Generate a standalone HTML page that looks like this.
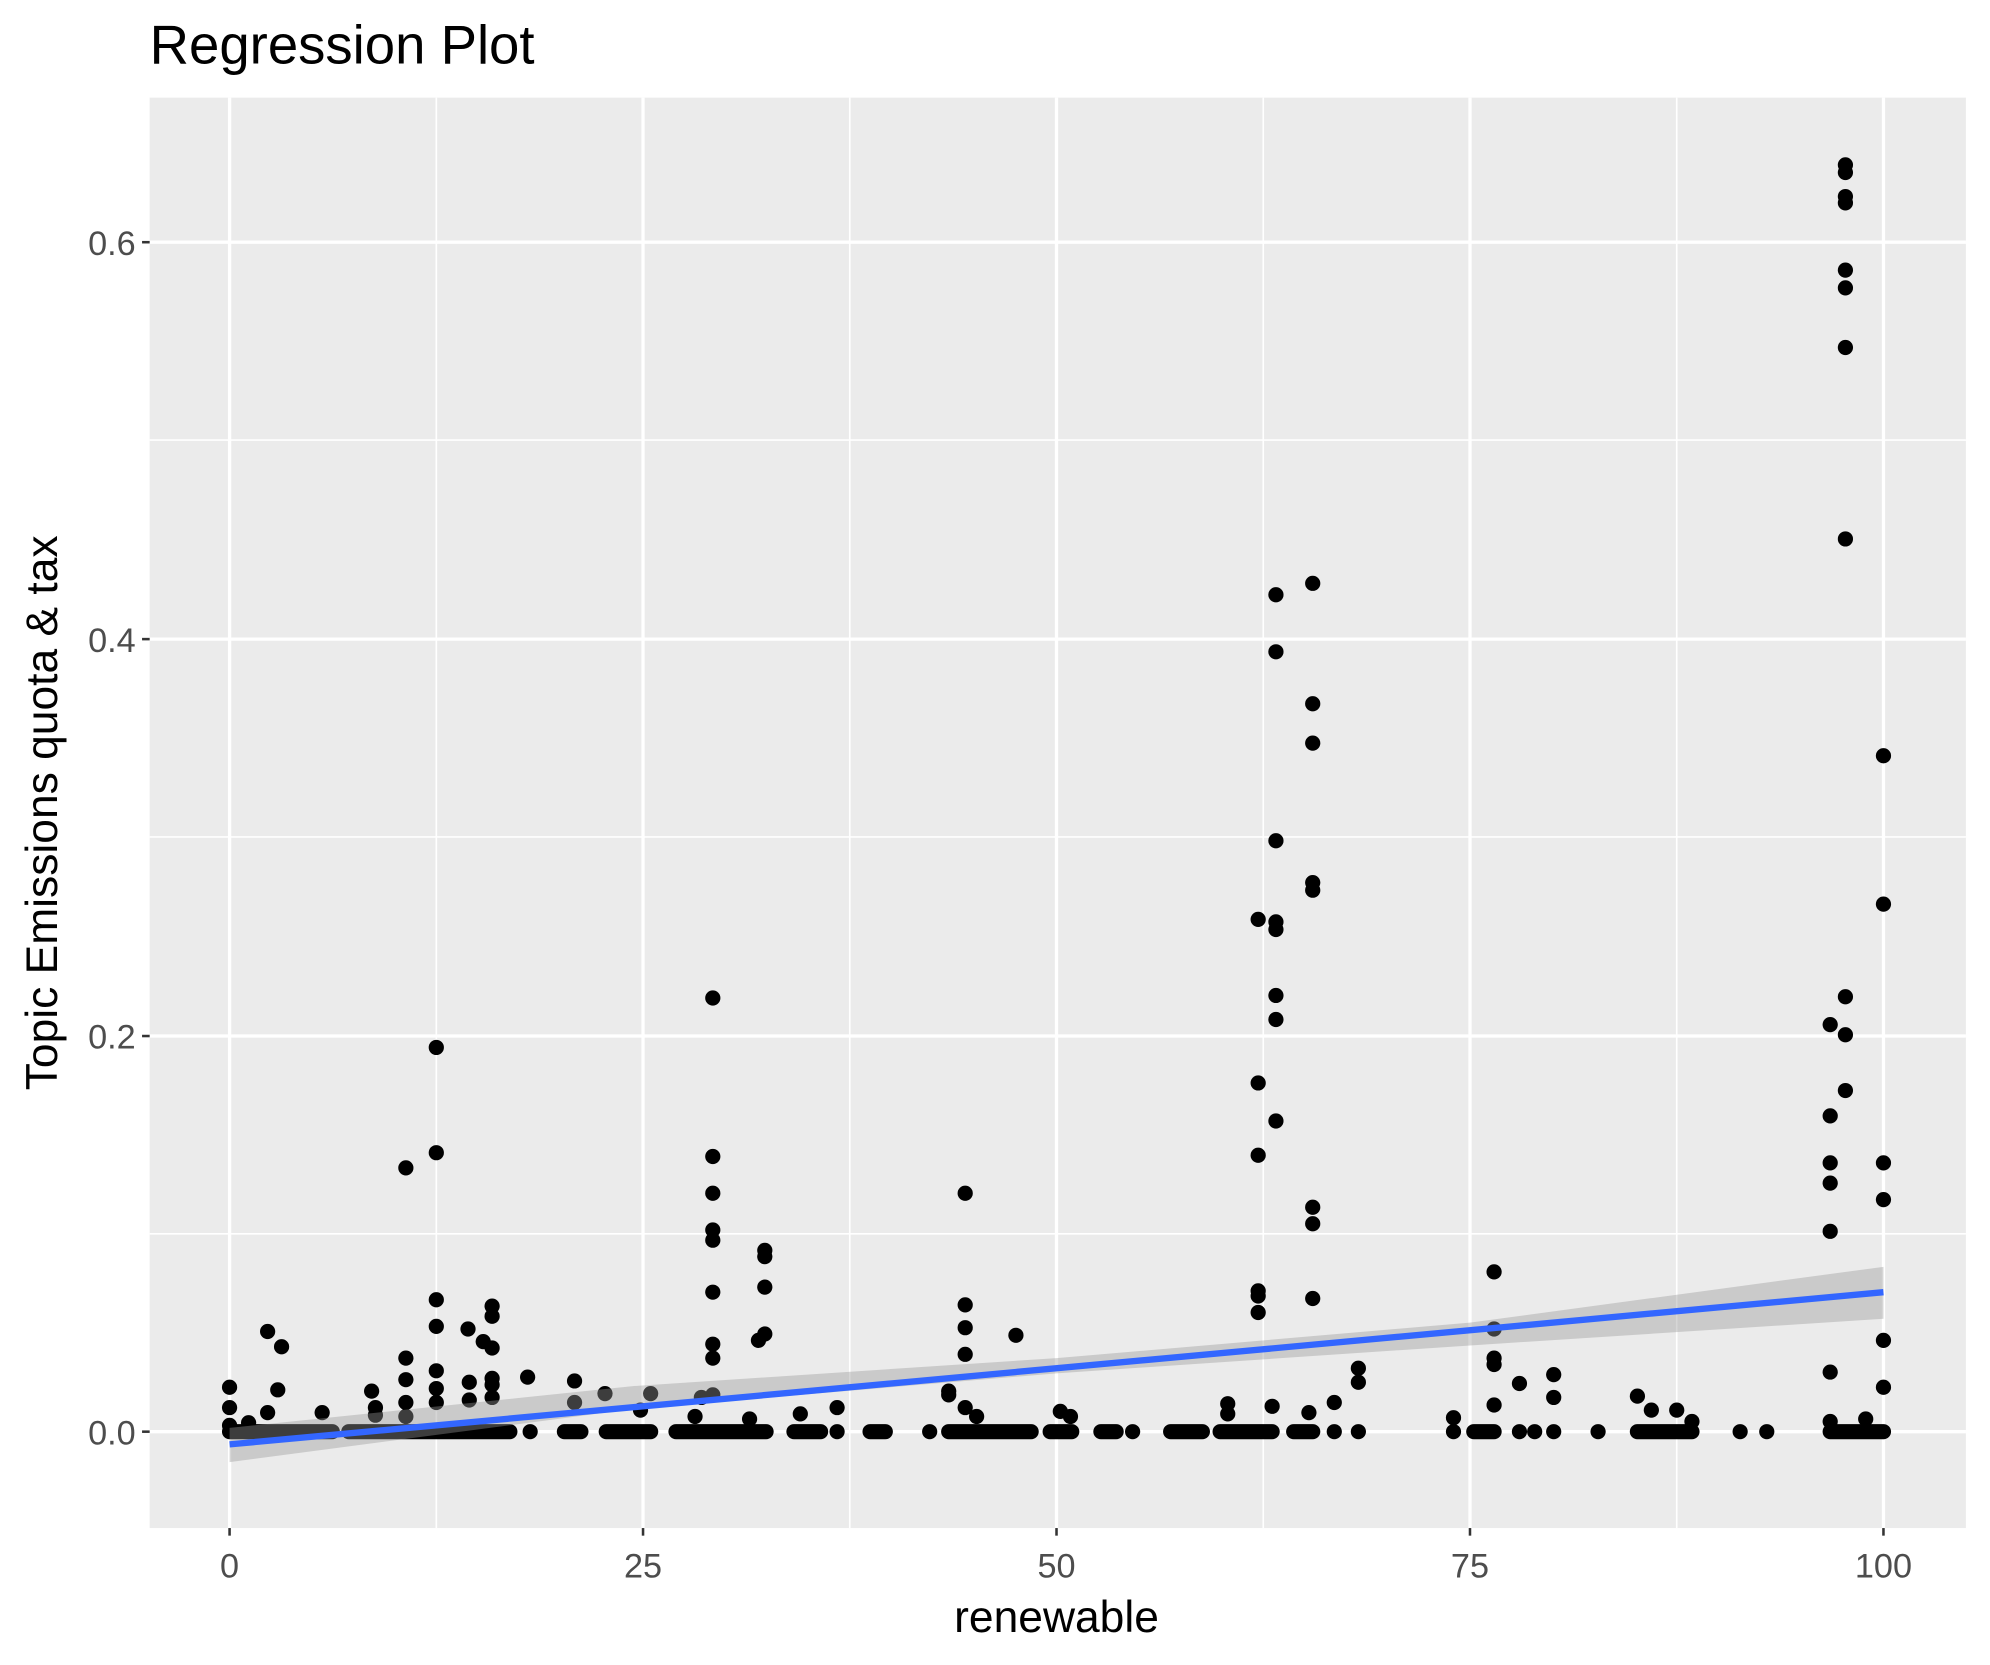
<!DOCTYPE html>
<html><head><meta charset="utf-8"><style>html,body{margin:0;padding:0;background:#fff}svg{display:block}</style></head>
<body>
<svg width="1990" height="1665" viewBox="0 0 1569 1313" preserveAspectRatio="none" xmlns="http://www.w3.org/2000/svg" font-family="Liberation Sans, sans-serif">
<rect width="1569" height="1313" fill="#fff"/>
<rect x="118" y="77" width="1432" height="1128" fill="#ebebeb"/>
<g stroke="#fff" stroke-width="1.3">
<line x1="118" x2="1550" y1="973" y2="973"/><line x1="118" x2="1550" y1="660" y2="660"/><line x1="118" x2="1550" y1="347" y2="347"/>
<line y1="77" y2="1205" x1="344" x2="344"/><line y1="77" y2="1205" x1="670" x2="670"/><line y1="77" y2="1205" x1="996" x2="996"/><line y1="77" y2="1205" x1="1322" x2="1322"/>
</g>
<g stroke="#fff" stroke-width="2.6">
<line x1="118" x2="1550" y1="1129" y2="1129"/><line x1="118" x2="1550" y1="817" y2="817"/><line x1="118" x2="1550" y1="504" y2="504"/><line x1="118" x2="1550" y1="191" y2="191"/>
<line y1="77" y2="1205" x1="181" x2="181"/><line y1="77" y2="1205" x1="507" x2="507"/><line y1="77" y2="1205" x1="833" x2="833"/><line y1="77" y2="1205" x1="1159" x2="1159"/><line y1="77" y2="1205" x1="1485" x2="1485"/>
</g>
<g fill="#000">
<circle cx="181" cy="1124" r="6"/><circle cx="181" cy="1110" r="6"/><circle cx="181" cy="1094" r="6"/><circle cx="211" cy="1050" r="6"/><circle cx="222" cy="1062" r="6"/><circle cx="219" cy="1096" r="6"/><circle cx="211" cy="1114" r="6"/><circle cx="196" cy="1122" r="6"/><circle cx="254" cy="1114" r="6"/><circle cx="293" cy="1097" r="6"/><circle cx="296" cy="1110" r="6"/><circle cx="296" cy="1116" r="6"/>
<circle cx="320" cy="921" r="6"/><circle cx="320" cy="1071" r="6"/><circle cx="320" cy="1088" r="6"/><circle cx="320" cy="1106" r="6"/><circle cx="320" cy="1117" r="6"/>
<circle cx="344" cy="826" r="6"/><circle cx="344" cy="909" r="6"/><circle cx="344" cy="1025" r="6"/><circle cx="344" cy="1046" r="6"/><circle cx="344" cy="1081" r="6"/><circle cx="344" cy="1095" r="6"/><circle cx="344" cy="1106" r="6"/>
<circle cx="369" cy="1048" r="6"/><circle cx="370" cy="1090" r="6"/><circle cx="370" cy="1104" r="6"/><circle cx="381" cy="1058" r="6"/><circle cx="388" cy="1030" r="6"/><circle cx="388" cy="1038" r="6"/><circle cx="388" cy="1063" r="6"/><circle cx="388" cy="1087" r="6"/><circle cx="388" cy="1092" r="6"/><circle cx="388" cy="1102" r="6"/>
<circle cx="416" cy="1086" r="6"/><circle cx="453" cy="1089" r="6"/><circle cx="453" cy="1106" r="6"/><circle cx="477" cy="1099" r="6"/><circle cx="513" cy="1099" r="6"/><circle cx="505" cy="1112" r="6"/><circle cx="548" cy="1117" r="6"/><circle cx="553" cy="1102" r="6"/>
<circle cx="562" cy="787" r="6"/><circle cx="562" cy="912" r="6"/><circle cx="562" cy="941" r="6"/><circle cx="562" cy="970" r="6"/><circle cx="562" cy="978" r="6"/><circle cx="562" cy="1019" r="6"/><circle cx="562" cy="1060" r="6"/><circle cx="562" cy="1071" r="6"/><circle cx="562" cy="1100" r="6"/>
<circle cx="591" cy="1119" r="6"/><circle cx="598" cy="1057" r="6"/><circle cx="603" cy="986" r="6"/><circle cx="603" cy="991" r="6"/><circle cx="603" cy="1015" r="6"/><circle cx="603" cy="1052" r="6"/><circle cx="631" cy="1115" r="6"/><circle cx="660" cy="1110" r="6"/>
<circle cx="748" cy="1097" r="6"/><circle cx="748" cy="1100" r="6"/><circle cx="761" cy="941" r="6"/><circle cx="761" cy="1029" r="6"/><circle cx="761" cy="1047" r="6"/><circle cx="761" cy="1068" r="6"/><circle cx="761" cy="1110" r="6"/><circle cx="770" cy="1117" r="6"/><circle cx="801" cy="1053" r="6"/><circle cx="836" cy="1113" r="6"/><circle cx="844" cy="1117" r="6"/>
<circle cx="968" cy="1107" r="6"/><circle cx="968" cy="1115" r="6"/>
<circle cx="992" cy="725" r="6"/><circle cx="992" cy="854" r="6"/><circle cx="992" cy="911" r="6"/><circle cx="992" cy="1018" r="6"/><circle cx="992" cy="1022" r="6"/><circle cx="992" cy="1035" r="6"/>
<circle cx="1006" cy="469" r="6"/><circle cx="1006" cy="514" r="6"/><circle cx="1006" cy="663" r="6"/><circle cx="1006" cy="727" r="6"/><circle cx="1006" cy="733" r="6"/><circle cx="1006" cy="785" r="6"/><circle cx="1006" cy="804" r="6"/><circle cx="1006" cy="884" r="6"/><circle cx="1003" cy="1109" r="6"/>
<circle cx="1035" cy="460" r="6"/><circle cx="1035" cy="555" r="6"/><circle cx="1035" cy="586" r="6"/><circle cx="1035" cy="696" r="6"/><circle cx="1035" cy="702" r="6"/><circle cx="1035" cy="952" r="6"/><circle cx="1035" cy="965" r="6"/><circle cx="1035" cy="1024" r="6"/><circle cx="1032" cy="1114" r="6"/>
<circle cx="1052" cy="1106" r="6"/><circle cx="1071" cy="1079" r="6"/><circle cx="1071" cy="1090" r="6"/><circle cx="1146" cy="1118" r="6"/>
<circle cx="1178" cy="1003" r="6"/><circle cx="1178" cy="1048" r="6"/><circle cx="1178" cy="1071" r="6"/><circle cx="1178" cy="1076" r="6"/><circle cx="1178" cy="1108" r="6"/><circle cx="1198" cy="1091" r="6"/><circle cx="1225" cy="1084" r="6"/><circle cx="1225" cy="1102" r="6"/><circle cx="1291" cy="1101" r="6"/><circle cx="1302" cy="1112" r="6"/><circle cx="1322" cy="1112" r="6"/><circle cx="1334" cy="1121" r="6"/>
<circle cx="1455" cy="130" r="6"/><circle cx="1455" cy="136" r="6"/><circle cx="1455" cy="155" r="6"/><circle cx="1455" cy="160" r="6"/><circle cx="1455" cy="213" r="6"/><circle cx="1455" cy="227" r="6"/><circle cx="1455" cy="274" r="6"/><circle cx="1455" cy="425" r="6"/><circle cx="1455" cy="786" r="6"/><circle cx="1455" cy="816" r="6"/><circle cx="1455" cy="860" r="6"/>
<circle cx="1443" cy="808" r="6"/><circle cx="1443" cy="880" r="6"/><circle cx="1443" cy="917" r="6"/><circle cx="1443" cy="933" r="6"/><circle cx="1443" cy="971" r="6"/><circle cx="1443" cy="1082" r="6"/><circle cx="1443" cy="1121" r="6"/><circle cx="1471" cy="1119" r="6"/>
<circle cx="1485" cy="596" r="6"/><circle cx="1485" cy="713" r="6"/><circle cx="1485" cy="917" r="6"/><circle cx="1485" cy="946" r="6"/><circle cx="1485" cy="1057" r="6"/><circle cx="1485" cy="1094" r="6"/>
</g>
<path d="M181 1129H262M275 1129H402M418 1129H418M445 1129H458M478 1129H513M533 1129H604M626 1129H647M660 1129H660M686 1129H698M733 1129H733M748 1129H813M828 1129H845M868 1129H880M893 1129H893M923 1129H948M962 1129H1003M1020 1129H1035M1052 1129H1052M1071 1129H1071M1146 1129H1146M1162 1129H1178M1198 1129H1198M1210 1129H1210M1225 1129H1225M1260 1129H1260M1291 1129H1334M1372 1129H1372M1393 1129H1393M1443 1129H1485" stroke="#000" stroke-width="12" stroke-linecap="round" fill="none"/>
<polygon points="181,1126 500,1093 833,1071 1159,1043 1485,999 1485,1040 1159,1061 833,1083 500,1111 181,1153" fill="#999" fill-opacity="0.4"/>
<line x1="181" y1="1139" x2="1485" y2="1019" stroke="#3366ff" stroke-width="5"/>
<g stroke="#333" stroke-width="2">
<line x1="112" x2="118" y1="1129" y2="1129"/><line x1="112" x2="118" y1="817" y2="817"/><line x1="112" x2="118" y1="504" y2="504"/><line x1="112" x2="118" y1="191" y2="191"/>
<line y1="1205" y2="1211" x1="181" x2="181"/><line y1="1205" y2="1211" x1="507" x2="507"/><line y1="1205" y2="1211" x1="833" x2="833"/><line y1="1205" y2="1211" x1="1159" x2="1159"/><line y1="1205" y2="1211" x1="1485" x2="1485"/>
</g>
<g fill="#4d4d4d" font-size="27" text-anchor="end">
<text x="107" y="1139">0.0</text><text x="107" y="827">0.2</text><text x="107" y="514">0.4</text><text x="107" y="201">0.6</text>
</g>
<g fill="#4d4d4d" font-size="27" text-anchor="middle">
<text x="181" y="1244">0</text><text x="507" y="1244">25</text><text x="833" y="1244">50</text><text x="1159" y="1244">75</text><text x="1485" y="1244">100</text>
</g>
<text x="833" y="1287" text-anchor="middle" font-size="35">renewable</text>
<text transform="translate(45,641) rotate(-90)" text-anchor="middle" font-size="35">Topic Emissions quota &amp; tax</text>
<text x="118" y="50" font-size="43">Regression Plot</text>
</svg>
</body></html>
